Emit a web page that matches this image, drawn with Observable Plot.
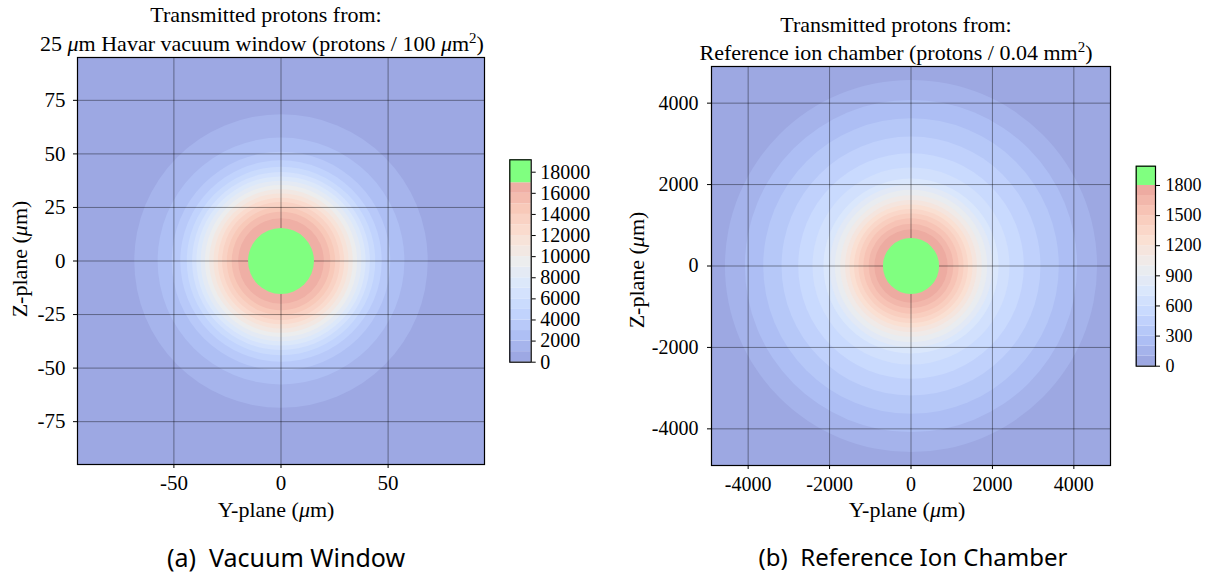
<!DOCTYPE html>
<html>
<head>
<meta charset="utf-8">
<script src="https://cdn.jsdelivr.net/npm/d3@7"></script>
<script src="https://cdn.jsdelivr.net/npm/@observablehq/plot@0.6"></script>
<style>
  html, body { margin: 0; padding: 0; background: #fff; }
  #root { position: relative; width: 1211px; height: 574px; overflow: hidden; font-family: "Liberation Serif", serif; color: #000; }
  .abs { position: absolute; }
  .lbl { position: absolute; white-space: nowrap; line-height: 1; transform: translate(-50%, -50%); }
  .rot { transform: translate(-50%, -50%) rotate(-90deg); }
  sup { font-size: 0.68em; vertical-align: 0.55em; line-height: 0; }
  .cap { font-family: "Noto Sans", sans-serif; }
</style>
</head>
<body>
<div id="root"></div>
<script>
// ---------- Data ----------
// Panel (a): 25 um Havar vacuum window, protons / 100 um^2
const levelsA = [1000, 2000, 3000, 4000, 5000, 6000, 7000, 8000, 9000, 10000, 11000, 12000, 13000, 14000, 15000, 16000, 17000];
const radiiA  = [68.5, 57.6, 51.0, 47.0, 44.0, 41.5, 39.5, 37.5, 35.5, 33.5, 31.5, 29.5, 27.5, 25.3, 23.0, 20.0, 15.4];
const stepA = 1000;
const maxA = 19175;
const domainA = [-95, 95];
const xTicksA = [-50, 0, 50];
const yTicksA = [-75, -50, -25, 0, 25, 50, 75];
const cbTicksA = [0, 2000, 4000, 6000, 8000, 10000, 12000, 14000, 16000, 18000];

// Panel (b): reference ion chamber, protons / 0.04 mm^2
const levelsB = [100, 200, 300, 400, 500, 600, 700, 800, 900, 1000, 1100, 1200, 1300, 1400, 1500, 1600, 1700, 1800];
const radiiB  = [4570, 4080, 3630, 3180, 2770, 2420, 2150, 2000, 1870, 1740, 1620, 1510, 1400, 1290, 1170, 1040, 900, 690];
const stepB = 100;
const maxB = 1992;
const domainB = [-4900, 4900];
const xTicksB = [-4000, -2000, 0, 2000, 4000];
const yTicksB = [-4000, -2000, 0, 2000, 4000];
const cbTicksB = [0, 300, 600, 900, 1200, 1500, 1800];

// coolwarm colormap anchors (t = 0, 1/8, ..., 1), drawn semi-transparent over white
const coolwarmRGB = [[59,76,192],[98,130,234],[141,176,254],[184,208,249],[221,220,220],[245,196,173],[244,154,123],[222,96,77],[180,4,38]];
const ALPHA = 0.52;
const GREEN = "#80ff80";

// ---------- helpers ----------
const cwRange = coolwarmRGB.map(([r,g,b]) => {
  const f = v => Math.round(ALPHA * v + (1 - ALPHA) * 255);
  return `rgb(${f(r)},${f(g)},${f(b)})`;
});
function colorScale(top) {
  return {type: "linear", domain: coolwarmRGB.map((_, i) => top * i / (coolwarmRGB.length - 1)), range: cwRange, interpolate: "rgb"};
}
const fmt = d => String(d);
const root = document.getElementById("root");

function place(node, left, top) {
  node.classList.add("abs");
  node.style.left = left + "px";
  node.style.top = top + "px";
  root.appendChild(node);
}
function label(html, x, y, size, extra = "") {
  const d = document.createElement("div");
  d.className = "lbl " + extra;
  d.style.left = x + "px";
  d.style.top = y + "px";
  d.style.fontSize = size + "px";
  d.innerHTML = html;
  root.appendChild(d);
}

function mapPlot(cfg) {
  const {levels, radii, step, top, dom, xt, yt, W, H, mL, mR, mT, mB, fs, padX, padY} = cfg;
  const n = levels.length;
  const bands = levels.slice(0, n - 1).map((L, i) => ({cx: 0, cy: 0, r: radii[i], v: L + step / 2}));
  const green = [{cx: 0, cy: 0, r: radii[n - 1]}];
  const bg = [{x1: dom[0], x2: dom[1], y1: dom[0], y2: dom[1], v: step / 2}];
  return Plot.plot({
    width: W, height: H,
    marginLeft: mL, marginRight: mR, marginTop: mT, marginBottom: mB,
    style: {fontFamily: "Liberation Serif, serif", fontSize: fs + "px", color: "black", background: "transparent", overflow: "visible"},
    x: {domain: dom, ticks: xt, tickFormat: fmt, tickSize: 4, tickPadding: padX, label: null},
    y: {domain: dom, ticks: yt, tickFormat: fmt, tickSize: 4, tickPadding: padY, label: null},
    r: {type: "linear", domain: [0, dom[1]], range: [0, (W - mL - mR) / 2]},
    color: colorScale(top),
    marks: [
      Plot.rect(bg, {x1: "x1", x2: "x2", y1: "y1", y2: "y2", fill: "v"}),
      Plot.dot(bands, {x: "cx", y: "cy", r: "r", fill: "v", stroke: null, sort: null}),
      Plot.ruleX(xt, {stroke: "black", strokeOpacity: 0.4, strokeWidth: 1}),
      Plot.ruleY(yt, {stroke: "black", strokeOpacity: 0.4, strokeWidth: 1}),
      Plot.dot(green, {x: "cx", y: "cy", r: "r", fill: GREEN, stroke: null}),
      Plot.frame({stroke: "black", strokeWidth: 1.2})
    ]
  });
}

function colorbar(cfg) {
  const {levels, step, top, ticks, W, H, mL, mR, mT, mB, fs, pad} = cfg;
  const n = levels.length;
  const greenStart = levels[n - 1];
  const rows = [];
  for (let L = 0; L < greenStart; L += step) rows.push({x1: 0, x2: 1, y1: L, y2: L + step, v: L + step / 2});
  const green = [{x1: 0, x2: 1, y1: greenStart, y2: top}];
  return Plot.plot({
    width: W, height: H,
    marginLeft: mL, marginRight: mR, marginTop: mT, marginBottom: mB,
    style: {fontFamily: "Liberation Serif, serif", fontSize: fs + "px", color: "black", background: "transparent", overflow: "visible"},
    x: {domain: [0, 1], axis: null},
    y: {domain: [0, top], ticks, tickFormat: fmt, axis: "right", tickSize: 4, tickPadding: pad, label: null},
    color: colorScale(top),
    marks: [
      Plot.rect(rows, {x1: "x1", x2: "x2", y1: "y1", y2: "y2", fill: "v"}),
      Plot.rect(green, {x1: "x1", x2: "x2", y1: "y1", y2: "y2", fill: GREEN}),
      Plot.frame({stroke: "black", strokeWidth: 1.2})
    ]
  });
}

// ---------- Panel (a) ----------
place(mapPlot({levels: levelsA, radii: radiiA, step: stepA, top: maxA, dom: domainA, xt: xTicksA, yt: yTicksA,
  W: 500, H: 500, mL: 77, mR: 16, mT: 57, mB: 36, fs: 21, padX: 7, padY: 8}), 0, 0);
place(colorbar({levels: levelsA, step: stepA, top: maxA, ticks: cbTicksA,
  W: 130, H: 240, mL: 29.3, mR: 79.3, mT: 19.3, mB: 18.3, fs: 20, pad: 5}), 480, 140);

// ---------- Panel (b) ----------
place(mapPlot({levels: levelsB, radii: radiiB, step: stepB, top: maxB, dom: domainB, xt: xTicksB, yt: yTicksB,
  W: 530, H: 500, mL: 111, mR: 20, mT: 66, mB: 35, fs: 20, padX: 7, padY: 9}), 600, 0);
place(colorbar({levels: levelsB, step: stepB, top: maxB, ticks: cbTicksB,
  W: 101, H: 240, mL: 25.7, mR: 56, mT: 15.7, mB: 24.3, fs: 18, pad: 6}), 1110, 150);

// ---------- Text ----------
label("Transmitted protons from:", 266, 15, 22);
label("25 <i>μ</i>m Havar vacuum window (protons / 100 <i>μ</i>m<sup>2</sup>)", 262, 44, 22);
label("Y-plane (<i>μ</i>m)", 276, 510, 22);
label("Z-plane (<i>μ</i>m)", 20, 259, 22, "rot");
label("(a)&nbsp;&nbsp;Vacuum Window", 286, 557, 25, "cap");

label("Transmitted protons from:", 896, 25, 22);
label("Reference ion chamber (protons / 0.04 mm<sup>2</sup>)", 896, 53, 22);
label("Y-plane (<i>μ</i>m)", 907, 510, 22);
label("Z-plane (<i>μ</i>m)", 637, 270, 22, "rot");
label("(b)&nbsp;&nbsp;Reference Ion Chamber", 913, 557, 24, "cap");
</script>
</body>
</html>
